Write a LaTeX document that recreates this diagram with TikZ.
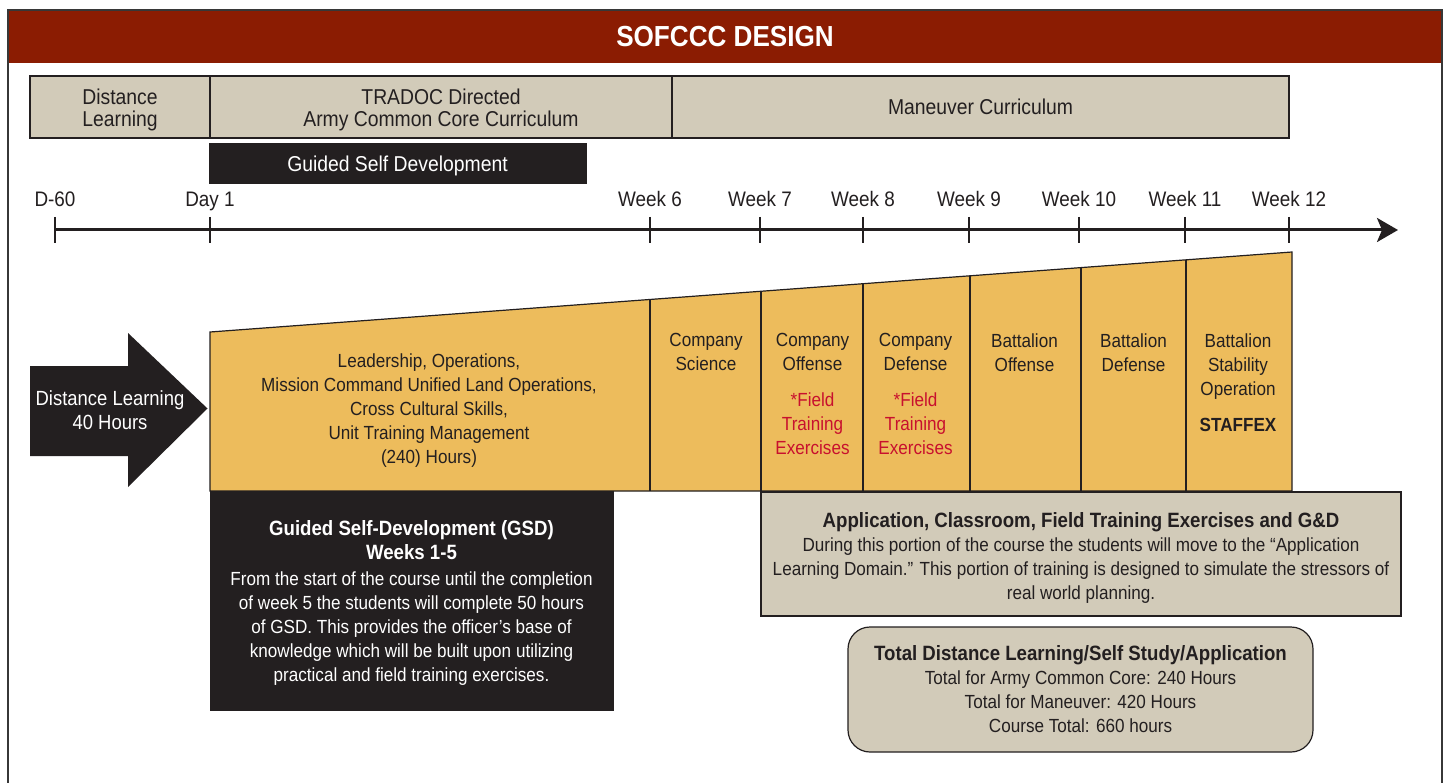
\documentclass[tikz,border=0pt]{standalone}
\usepackage{fontspec}
\setmainfont{Liberation Sans}[FakeStretch=0.9]
\usetikzlibrary{arrows.meta}
\definecolor{hdr}{RGB}{139,28,2}
\definecolor{beige}{RGB}{210,203,185}
\definecolor{orng}{RGB}{237,188,92}
\definecolor{ink}{RGB}{35,31,32}
\definecolor{fte}{RGB}{200,16,46}
\definecolor{framec}{RGB}{55,55,55}
\newcommand{\ttl}[1]{{\fontsize{20.7}{24}\selectfont\bfseries #1}}
\tikzset{
  txt/.style={font=\fontsize{19}{24}\selectfont, text=ink, align=center, inner sep=0pt},
  bigtxt/.style={font=\fontsize{21.5}{22}\selectfont, text=ink, align=center, inner sep=0pt},
  wtxt/.style={txt, text=white},
  beigebox/.style={draw=ink, fill=beige, line width=1.2pt, inner sep=0pt},
  blackbox/.style={fill=ink, draw=ink, line width=0.5pt, inner sep=0pt},
  tickline/.style={line width=2pt, draw=ink},
  divider/.style={line width=1.1pt, draw=ink},
}
\begin{document}
\begin{tikzpicture}[x=1pt,y=-1pt]
\useasboundingbox (0,0) rectangle (1447,783);
\fill[white] (0,0) rectangle (1447,783);
% frame and header
\draw[framec, line width=2.5pt] (8,783) -- (8,10) -- (1442,10) -- (1442,783);
\fill[hdr] (9.2,11.2) rectangle (1440.8,63);
\node[font=\fontsize{29}{30}\selectfont\bfseries, text=white, inner sep=0pt] (title) at (725,37) {SOFCCC DESIGN};

% top row
\node[beigebox, minimum width=180pt, minimum height=62pt] (dl) at (120,107) {};
\node[beigebox, minimum width=462pt, minimum height=62pt] (tradoc) at (441,107) {};
\node[beigebox, bigtxt, minimum width=617pt, minimum height=62pt] (man) at (980.5,107) {Maneuver Curriculum};
\node[bigtxt] (dltop) at (120,110) {Distance\\Learning};
\node[bigtxt] (tradoctxt) at (441,110) {TRADOC Directed\\Army Common Core Curriculum};
\node[blackbox, minimum width=377pt, minimum height=40pt] (gsdbar) at (397.5,163) {};
\node[bigtxt, text=white] (gsdbartxt) at (397.5,165.5) {Guided Self Development};

% timeline
\coordinate (tlstart) at (55,230);
\coordinate (tlend) at (1398,230);
\draw[line width=3pt, ink, -{Stealth[length=21pt,width=24pt,inset=5pt]}] (tlstart) -- (tlend);
\foreach \x/\n/\l in {55/a/D-60, 210/b/Day 1, 650/c/Week 6, 760/d/Week 7, 863/e/Week 8, 969/f/Week 9, 1079/g/Week 10, 1185/h/Week 11, 1289/i/Week 12}{
  \draw[tickline] (\x,217) -- (\x,243);
  \node[bigtxt, font=\fontsize{21}{22}\selectfont, anchor=base] (lab\n) at (\x,206.5) {\l};
}

% orange band
\draw[draw=ink, fill=orng, line width=1.2pt] (210,332) -- (1292,252) -- (1292,491) -- (210,491) -- cycle;
\draw[divider] (650,299.5) -- (650,491);
\draw[divider] (761,291.3) -- (761,491);
\draw[divider] (863,283.7) -- (863,491);
\draw[divider] (970,275.8) -- (970,491);
\draw[divider] (1081,267.6) -- (1081,491);
\draw[divider] (1186,259.8) -- (1186,491);

% distance learning arrow
\fill[ink] (30,366) -- (128,366) -- (128,333) -- (207.5,408.5) -- (128,487) -- (128,456) -- (30,456) -- cycle;
\node[wtxt, font=\fontsize{20.5}{24.5}\selectfont] (dltxt) at (110,410) {Distance Learning\\40 Hours};

% orange texts
\node[txt] (core) at (429,410.5) {Leadership, Operations,\\Mission Command Unified Land Operations,\\Cross Cultural Skills,\\Unit Training Management\\(240) Hours)};
\node[txt, anchor=north] (cs) at (706,333.5) {Company\\Science};
\node[txt, anchor=north] (co) at (812.5,333.5) {Company\\Offense\\[12pt]\textcolor{fte}{*Field}\\\textcolor{fte}{Training}\\\textcolor{fte}{Exercises}};
\node[txt, anchor=north] (cd) at (915.5,333.5) {Company\\Defense\\[12pt]\textcolor{fte}{*Field}\\\textcolor{fte}{Training}\\\textcolor{fte}{Exercises}};
\node[txt, anchor=north] (bo) at (1024.5,333.5) {Battalion\\Offense};
\node[txt, anchor=north] (bd) at (1133.5,333.5) {Battalion\\Defense};
\node[txt, anchor=north] (bs) at (1238,333.5) {Battalion\\Stability\\Operation\\[12pt]\textbf{STAFFEX}};

% GSD box
\node[blackbox, minimum width=403pt, minimum height=219pt] (gsd) at (411.5,600.5) {};
\node[wtxt] (gsdtxt) at (411.5,603) {\ttl{Guided Self-Development (GSD)}\\\ttl{Weeks 1-5}\\[1.5pt]From the start of the course until the completion\\of week 5 the students will complete 50 hours\\of GSD. This provides the officer’s base of\\knowledge which will be built upon utilizing\\practical and field training exercises.};

% application box
\node[beigebox, minimum width=640pt, minimum height=124pt] (app) at (1081,554) {};
\node[txt] (apptxt) at (1081,558) {\ttl{Application, Classroom, Field Training Exercises and G\&D}\\During this portion of the course the students will move to the “Application\\Learning Domain.” This portion of training is designed to simulate the stressors of\\real world planning.};

% totals box
\node[beigebox, txt, rounded corners=22pt, minimum width=465pt, minimum height=125pt] (tot) at (1080.5,689.5) {\ttl{Total Distance Learning/Self Study/Application}\\Total for Army Common Core: 240 Hours\\Total for Maneuver: 420 Hours\\Course Total: 660 hours};
\end{tikzpicture}
\end{document}
